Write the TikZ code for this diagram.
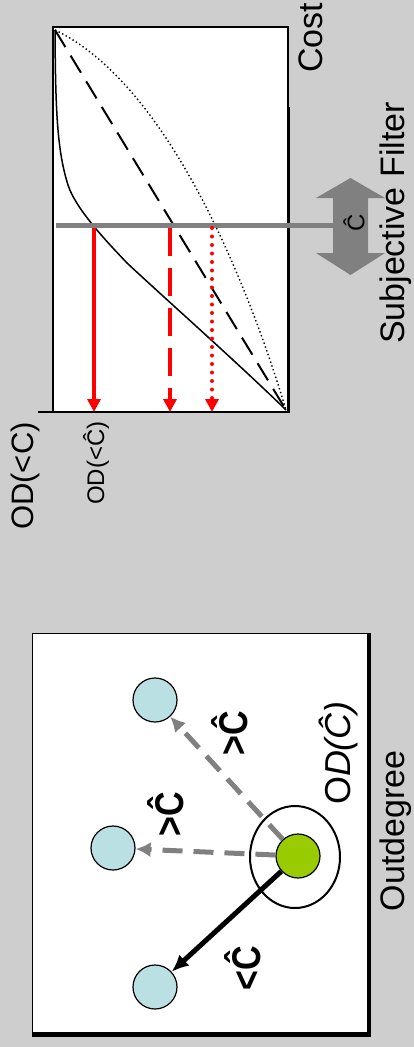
\documentclass[tikz,border=0pt]{standalone}
\usepackage{fontspec}
\usepackage{graphicx}
\setmainfont{Liberation Sans}
\usetikzlibrary{arrows.meta,shapes.geometric}
\definecolor{bg}{RGB}{206,206,206}
\definecolor{fgray}{RGB}{128,128,128}
\definecolor{lblue}{RGB}{187,224,227}
\definecolor{lgreen}{RGB}{153,204,0}
\definecolor{rred}{RGB}{255,0,0}
\begin{document}
\begin{tikzpicture}[x=1pt,y=-1pt,
  lbl/.style={rotate=90,inner sep=0pt,font=\fontsize{34}{40}\selectfont},
  blbl/.style={rotate=90,inner sep=0pt,font=\bfseries\fontsize{34}{40}\selectfont},
  dot/.style={circle,draw=black,line width=1.2pt,minimum size=44pt,inner sep=0pt},
  ring/.style={ellipse,draw=black,line width=2pt,minimum width=90pt,minimum height=102pt,inner sep=0pt},
  redarrow/.style={rred,line width=4.5pt,-{Triangle[length=13pt,width=13pt]}},
  grayarrow/.style={fgray,line width=5pt,dash pattern=on 20pt off 11pt,-{Latex[length=15pt,width=15pt]}},
  blackarrow/.style={black,line width=5pt,-{Latex[length=17pt,width=15pt]}}]
\fill[bg] (0,0) rectangle (414,1047);
\path[use as bounding box] (0,0) rectangle (414,1047);

% ---------- top panel ----------
\fill[white] (53,27) rectangle (288,412);
\coordinate (o) at (55,30);
\coordinate (e) at (286,410);
\coordinate (k1) at (68,185);
\coordinate (k2) at (127,263);
\draw[line width=1.5pt] (o) .. controls (55.5,110) and (57,150) .. (k1)
  .. controls (76,210) and (110,245) .. (k2)
  .. controls (170,303) and (240,365) .. (e);
\draw[line width=2pt,dash pattern=on 20pt off 10pt] (o) -- (e);
\draw[line width=1.4pt,dash pattern=on 1.4pt off 2.6pt] (o) .. controls (170,85) and (250,290) .. (e);
\draw[line width=2pt] (53,412) -- (53,27) -- (288,27) -- (288,107);
\draw[line width=3pt] (288,107) -- (288,413);
\draw[line width=2.5pt] (38,412) -- (289.5,412);

% filter
\fill[fgray] (350.5,178) -- (385,198) -- (368,198) -- (368,253) -- (385,253) -- (350.5,275)
  -- (316,253) -- (333,253) -- (333,198) -- (316,198) -- cycle;
\draw[fgray,line width=5.5pt] (56,225.5) -- (345,225.5);
\node[rotate=90,inner sep=0pt,font=\fontsize{24}{28}\selectfont] (chat) at (354,223) {Ĉ};

% red arrows
\coordinate (r1s) at (94,228);  \coordinate (r1e) at (94,412);
\coordinate (r2s) at (170,228); \coordinate (r2e) at (170,412);
\coordinate (r3s) at (212,228); \coordinate (r3e) at (212,412);
\draw[redarrow] (r1s) -- (r1e);
\draw[redarrow,dash pattern=on 28pt off 12pt] (r2s) -- (r2e);
\draw[redarrow,line width=4pt,line cap=round,dash pattern=on 0pt off 8.5pt] (r3s) -- (r3e);

% labels top
\node[lbl] (cost) at (311,38) {Cost};
\node[lbl] (sf) at (396,223) {Subjective Filter};
\node[lbl,font=\fontsize{31}{36}\selectfont] (odc) at (25,476) {OD(<C)};
\node[lbl,font=\fontsize{24}{28}\selectfont] (odch) at (96,463) {OD(<Ĉ)};

% ---------- bottom panel ----------
\fill[white] (32,633) rectangle (369,1034);
\draw[line width=1pt] (32,1034) -- (32,633) -- (369,633);
\draw[line width=4pt] (369,633) -- (369,1036);
\draw[line width=4.5pt] (32,1034.5) -- (371,1034.5);

\node[ring] (ring) at (295,857) {};
\node[dot,fill=lblue] (t) at (155,700) {};
\node[dot,fill=lblue] (m) at (113,848) {};
\node[dot,fill=lblue] (b) at (155,987) {};
\node[dot,fill=lgreen] (g) at (298,856) {};
\draw[grayarrow] (g) -- (t);
\draw[grayarrow] (g) -- (m);
\draw[blackarrow] (g) -- (b);

\node[blbl] (l1) at (230,733) {\scalebox{1}[1.18]{>Ĉ}};
\node[blbl] (l2) at (166,814) {\scalebox{1}[1.18]{>Ĉ}};
\node[blbl] (l3) at (243,968) {\scalebox{1}[1.18]{<Ĉ}};
\node[lbl,font=\fontsize{36}{40}\selectfont] (odhat) at (338,753) {O\textit{D(Ĉ)}};
\node[lbl] (outd) at (396,831) {Outdegree};
\end{tikzpicture}
\end{document}
